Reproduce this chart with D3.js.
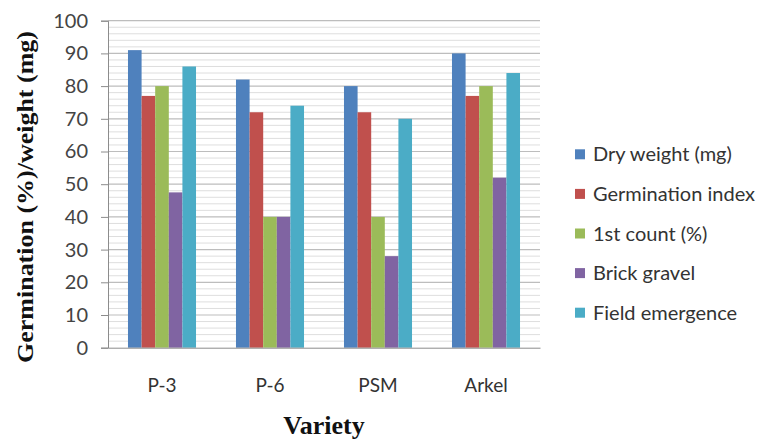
<!DOCTYPE html>
<html><head><meta charset="utf-8">
<script src="https://cdn.jsdelivr.net/npm/d3@7"></script>
<style>body{margin:0;background:#fff}</style>
</head><body>
<svg id="c" width="759" height="439"></svg>
<script>
const categories = ["P-3", "P-6", "PSM", "Arkel"];
const seriesNames = ["Dry weight (mg)", "Germination index", "1st count (%)", "Brick gravel", "Field emergence"];
const dryWeight = [91, 82, 80, 90];
const germIndex = [77, 72, 72, 77];
const firstCount = [80, 40, 40, 80];
const brickGravel = [47.5, 40, 28, 52];
const fieldEmergence = [86, 74, 70, 84];
const colors = ["#4F81BD", "#C0504D", "#9BBB59", "#8064A2", "#4BACC6"];
const yTicks = [0,10,20,30,40,50,60,70,80,90,100];

const series = [dryWeight, germIndex, firstCount, brickGravel, fieldEmergence];
const svg = d3.select("#c");
const m = {l:108, r:540, t:20.7, b:347.7};
const sans = "Lato, 'Open Sans', sans-serif";

const x = d3.scaleBand().domain(categories).range([m.l, m.r]).paddingInner(0.37).paddingOuter(0.185);
const xs = d3.scaleBand().domain(d3.range(series.length)).range([0, x.bandwidth()]);
const y = d3.scaleLinear().domain([0,100]).range([m.b, m.t]);

// minor gridlines
const minor = d3.range(0, 101, 2).filter(v => v % 10 !== 0);
svg.append("g").selectAll("line").data(minor).join("line")
  .attr("x1", m.l).attr("x2", m.r).attr("y1", d=>y(d)).attr("y2", d=>y(d))
  .attr("stroke", "#dedede").attr("stroke-width", 1);
// major gridlines
svg.append("g").selectAll("line").data(yTicks.slice(1)).join("line")
  .attr("x1", m.l).attr("x2", m.r).attr("y1", d=>y(d)).attr("y2", d=>y(d))
  .attr("stroke", "#bdbdbd").attr("stroke-width", 1.2);

// bars
const g = svg.append("g");
categories.forEach((c, ci) => {
  series.forEach((s, si) => {
    g.append("rect")
      .attr("x", x(c) + xs(si))
      .attr("y", y(s[ci]))
      .attr("width", xs.bandwidth())
      .attr("height", y(0) - y(s[ci]))
      .attr("fill", colors[si]);
  });
});

// y axis
const yAxis = d3.axisLeft(y).tickValues(yTicks).tickSize(7).tickPadding(13);
const ya = svg.append("g").attr("transform", `translate(${m.l},0)`).call(yAxis);
ya.select(".domain").attr("stroke", "#8c8c8c");
ya.selectAll(".tick line").attr("stroke", "#8c8c8c");
ya.selectAll("text").attr("font-family", sans).attr("font-size", 20).attr("fill", "#444");

// x axis
const xAxis = d3.axisBottom(x).tickSize(0).tickPadding(31);
const xa = svg.append("g").attr("transform", `translate(0,${m.b})`).call(xAxis);
xa.select(".domain").attr("stroke", "#8c8c8c");
xa.selectAll("text").attr("font-family", sans).attr("font-size", 19).attr("fill", "#333");

// axis titles
svg.append("text").attr("transform", `translate(33,197) rotate(-90) scale(1,0.85)`)
  .attr("text-anchor", "middle").attr("font-family", "'Liberation Serif', serif")
  .attr("font-weight", "bold").attr("font-size", 26).attr("fill", "#111")
  .text("Germination (%)/weight (mg)");
svg.append("text").attr("x", 324).attr("y", 434)
  .attr("text-anchor", "middle").attr("font-family", "'Liberation Serif', serif")
  .attr("font-weight", "bold").attr("font-size", 26).attr("fill", "#111")
  .text("Variety");

// legend
const lg = svg.append("g");
seriesNames.forEach((n, i) => {
  const yy = 154.3 + i * 39.6;
  lg.append("rect").attr("x", 575).attr("y", yy - 5).attr("width", 10).attr("height", 10).attr("fill", colors[i]);
  lg.append("text").attr("x", 593).attr("y", yy + 7)
    .attr("font-family", sans).attr("font-size", 20).attr("fill", "#333").text(n);
});
</script>
</body></html>
